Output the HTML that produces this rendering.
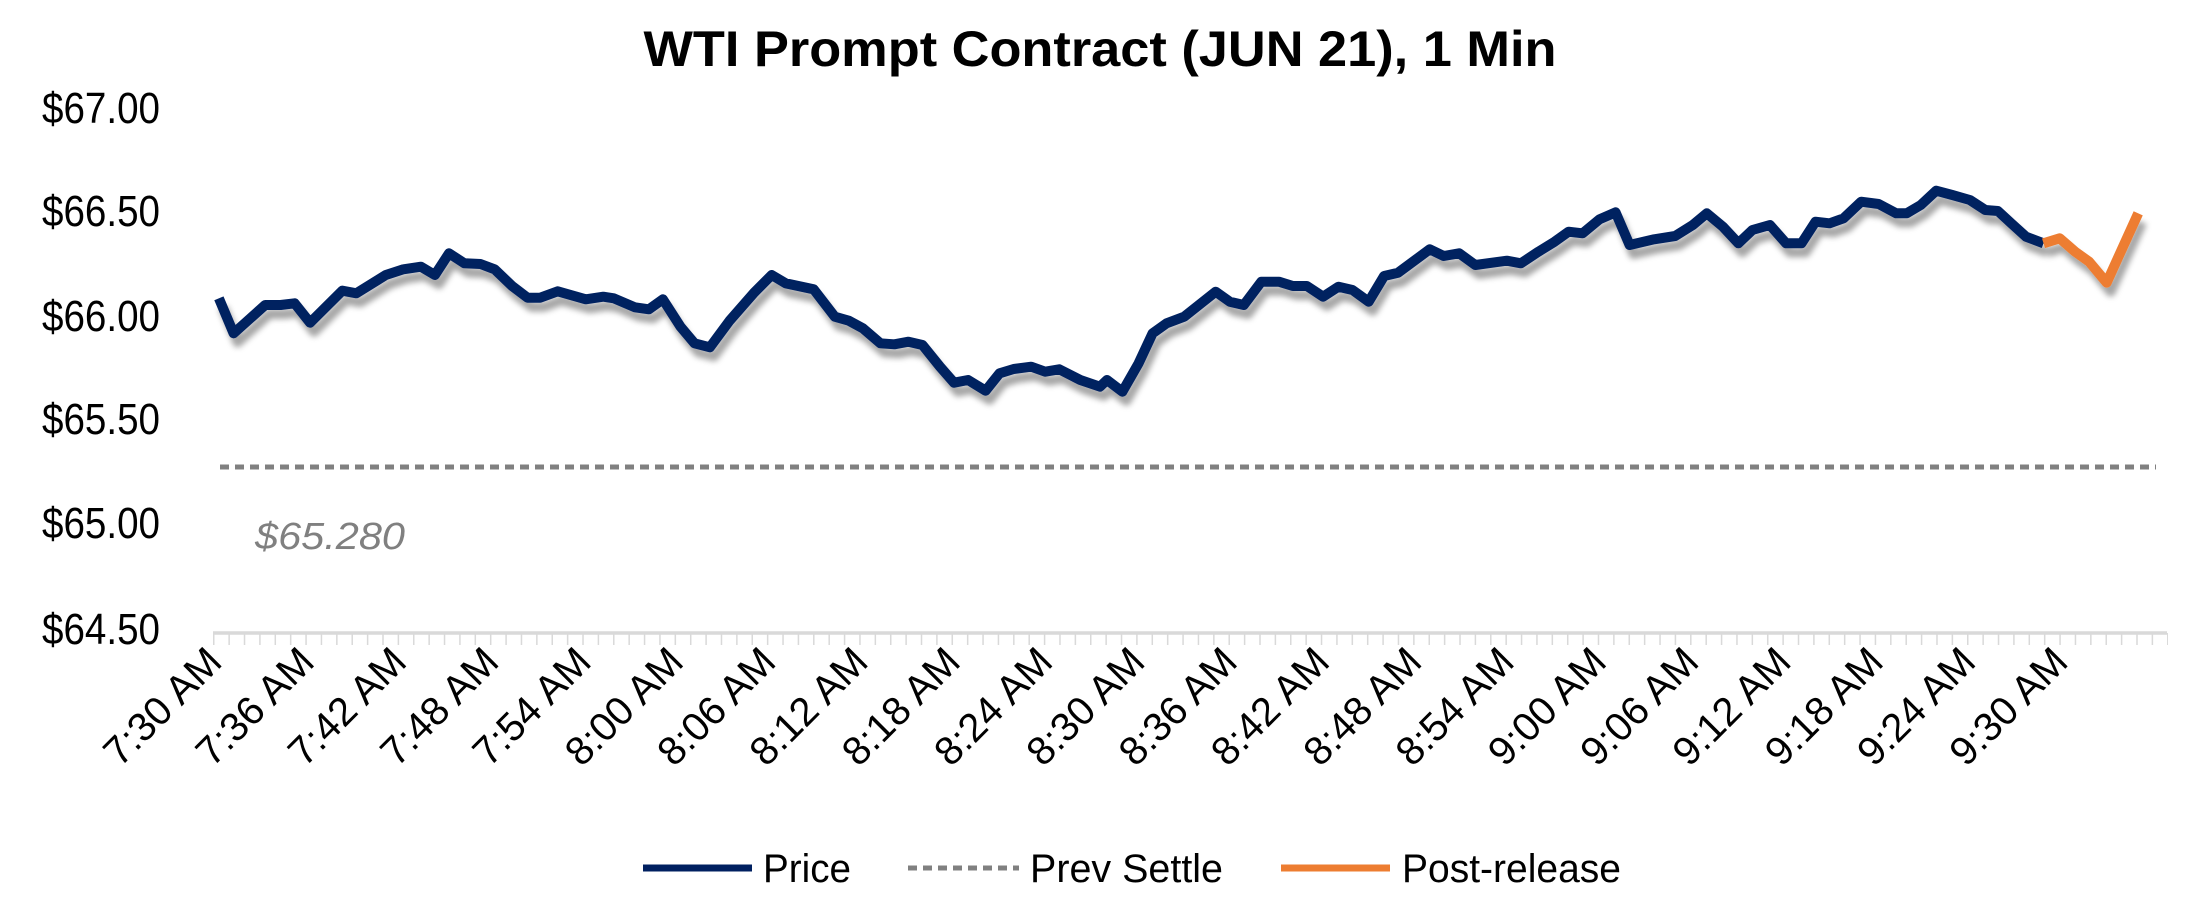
<!DOCTYPE html>
<html><head><meta charset="utf-8"><style>html,body{margin:0;padding:0;background:#fff}svg{display:block}</style></head>
<body>
<svg width="2196" height="900" viewBox="0 0 2196 900" xmlns="http://www.w3.org/2000/svg" font-family="Liberation Sans, sans-serif">
<defs>
<filter id="sh" x="-5%" y="-20%" width="110%" height="160%">
<feDropShadow dx="4" dy="9" stdDeviation="3" flood-color="#000" flood-opacity="0.35"/>
</filter>
</defs>
<text x="1100" y="66" text-anchor="middle" font-size="50" font-weight="bold" textLength="913" lengthAdjust="spacingAndGlyphs">WTI Prompt Contract (JUN 21), 1 Min</text>
<g font-size="44" text-anchor="end" fill="#000">
<text x="160" y="123" textLength="118" lengthAdjust="spacingAndGlyphs">$67.00</text>
<text x="160" y="226" textLength="118" lengthAdjust="spacingAndGlyphs">$66.50</text>
<text x="160" y="331" textLength="118" lengthAdjust="spacingAndGlyphs">$66.00</text>
<text x="160" y="434" textLength="118" lengthAdjust="spacingAndGlyphs">$65.50</text>
<text x="160" y="538" textLength="118" lengthAdjust="spacingAndGlyphs">$65.00</text>
<text x="160" y="644" textLength="118" lengthAdjust="spacingAndGlyphs">$64.50</text>
</g>
<line x1="213" y1="639" x2="2168" y2="639" stroke="#d9d9d9" stroke-width="12" stroke-dasharray="1.5 13.886"/>
<line x1="213" y1="633" x2="2167" y2="633" stroke="#d9d9d9" stroke-width="3.5"/>
<line x1="220" y1="467" x2="2156" y2="467" stroke="#808080" stroke-width="5" stroke-dasharray="9 6"/>
<text x="255" y="549" font-size="38" font-style="italic" fill="#808080" textLength="150" lengthAdjust="spacingAndGlyphs">$65.280</text>
<g filter="url(#sh)" fill="none" stroke-width="10" stroke-linejoin="round">
<polyline stroke="#002060" points="218.9,298.3 233.6,333.3 265.2,305 280.6,305 294.6,303.3 310.1,322.7 342.3,290.7 356.4,293.3 385.8,275 403.4,269.3 420.9,266.7 434.9,275 449,253.3 464.4,263.3 480.5,264 494.6,269.3 512.1,286 527.5,297.7 540.2,297.7 557.7,291.3 585.8,299.3 603.3,296.7 613.8,298.3 634.9,307.3 648.9,309.3 662.9,299.3 680.5,326.7 694.5,343.3 709.9,347.3 729.6,320.7 754.1,292.7 771.7,275 785.7,283.3 813.7,289.3 834.8,316.7 848.8,320.7 862.9,328.3 880.4,343.3 894.4,344.3 908.5,341.7 922.5,345 940,366.7 954,382.7 968.1,380 985.6,390.7 999.6,373.3 1013.7,369 1031.2,366.7 1045.2,371.7 1059.3,369.3 1080.3,380 1100,386.7 1107,380 1122.4,391.7 1138.6,363.3 1152.6,333.3 1166.6,323.3 1184.2,316.7 1215.7,291.7 1229.8,301.7 1243.8,305 1261.3,281.7 1278.9,281.7 1292.9,286 1306.9,286 1323.1,296.7 1338.5,286.7 1352.5,290 1368.7,301.7 1384.1,276 1398.1,272.7 1429.7,249.3 1443.7,256 1459.2,253.3 1475.3,265 1506.9,260.7 1520.9,263.3 1538.4,251.7 1554.6,241.7 1568.6,231.7 1582.6,233.3 1599.5,219.3 1615.6,212.3 1629.6,245 1654.2,239.3 1675.2,236 1692.8,225 1706.8,213.3 1722.9,226.7 1738.4,243.3 1752.4,230 1769.9,225 1786.1,243.3 1801.5,243.3 1815.5,221.7 1829.6,223.3 1843.6,218.3 1861.1,201.7 1878.7,204 1896.2,213.3 1906.7,213.3 1920.8,205 1936.2,190.7 1952.3,195 1969.9,200 1985.3,210 1997.9,211 2012,224 2026,236.7 2043.5,243.3"/>
<polyline stroke="#ED7D31" points="2043.5,243.3 2059.7,238.3 2075.1,251.7 2089.1,261.7 2106.7,282.7 2138.2,213.3"/>
</g>
<g font-size="40" text-anchor="end">
<text x="224" y="664" transform="rotate(-45 224 664)" textLength="147" lengthAdjust="spacingAndGlyphs">7:30 AM</text>
<text x="316.3" y="664" transform="rotate(-45 316.3 664)" textLength="147" lengthAdjust="spacingAndGlyphs">7:36 AM</text>
<text x="408.6" y="664" transform="rotate(-45 408.6 664)" textLength="147" lengthAdjust="spacingAndGlyphs">7:42 AM</text>
<text x="500.9" y="664" transform="rotate(-45 500.9 664)" textLength="147" lengthAdjust="spacingAndGlyphs">7:48 AM</text>
<text x="593.2" y="664" transform="rotate(-45 593.2 664)" textLength="147" lengthAdjust="spacingAndGlyphs">7:54 AM</text>
<text x="685.5" y="664" transform="rotate(-45 685.5 664)" textLength="147" lengthAdjust="spacingAndGlyphs">8:00 AM</text>
<text x="777.8" y="664" transform="rotate(-45 777.8 664)" textLength="147" lengthAdjust="spacingAndGlyphs">8:06 AM</text>
<text x="870.1" y="664" transform="rotate(-45 870.1 664)" textLength="147" lengthAdjust="spacingAndGlyphs">8:12 AM</text>
<text x="962.4" y="664" transform="rotate(-45 962.4 664)" textLength="147" lengthAdjust="spacingAndGlyphs">8:18 AM</text>
<text x="1054.7" y="664" transform="rotate(-45 1054.7 664)" textLength="147" lengthAdjust="spacingAndGlyphs">8:24 AM</text>
<text x="1147" y="664" transform="rotate(-45 1147 664)" textLength="147" lengthAdjust="spacingAndGlyphs">8:30 AM</text>
<text x="1239.3" y="664" transform="rotate(-45 1239.3 664)" textLength="147" lengthAdjust="spacingAndGlyphs">8:36 AM</text>
<text x="1331.6" y="664" transform="rotate(-45 1331.6 664)" textLength="147" lengthAdjust="spacingAndGlyphs">8:42 AM</text>
<text x="1423.9" y="664" transform="rotate(-45 1423.9 664)" textLength="147" lengthAdjust="spacingAndGlyphs">8:48 AM</text>
<text x="1516.2" y="664" transform="rotate(-45 1516.2 664)" textLength="147" lengthAdjust="spacingAndGlyphs">8:54 AM</text>
<text x="1608.5" y="664" transform="rotate(-45 1608.5 664)" textLength="147" lengthAdjust="spacingAndGlyphs">9:00 AM</text>
<text x="1700.8" y="664" transform="rotate(-45 1700.8 664)" textLength="147" lengthAdjust="spacingAndGlyphs">9:06 AM</text>
<text x="1793.1" y="664" transform="rotate(-45 1793.1 664)" textLength="147" lengthAdjust="spacingAndGlyphs">9:12 AM</text>
<text x="1885.4" y="664" transform="rotate(-45 1885.4 664)" textLength="147" lengthAdjust="spacingAndGlyphs">9:18 AM</text>
<text x="1977.7" y="664" transform="rotate(-45 1977.7 664)" textLength="147" lengthAdjust="spacingAndGlyphs">9:24 AM</text>
<text x="2070" y="664" transform="rotate(-45 2070 664)" textLength="147" lengthAdjust="spacingAndGlyphs">9:30 AM</text>
</g>
<g font-size="40">
<line x1="643" y1="868" x2="752" y2="868" stroke="#002060" stroke-width="7"/>
<text x="763" y="882" textLength="88" lengthAdjust="spacingAndGlyphs">Price</text>
<line x1="908" y1="868" x2="1019" y2="868" stroke="#808080" stroke-width="5" stroke-dasharray="9 6"/>
<text x="1030" y="882" textLength="193" lengthAdjust="spacingAndGlyphs">Prev Settle</text>
<line x1="1281" y1="868" x2="1390" y2="868" stroke="#ED7D31" stroke-width="7"/>
<text x="1402" y="882" textLength="219" lengthAdjust="spacingAndGlyphs">Post-release</text>
</g>
</svg>
</body></html>
